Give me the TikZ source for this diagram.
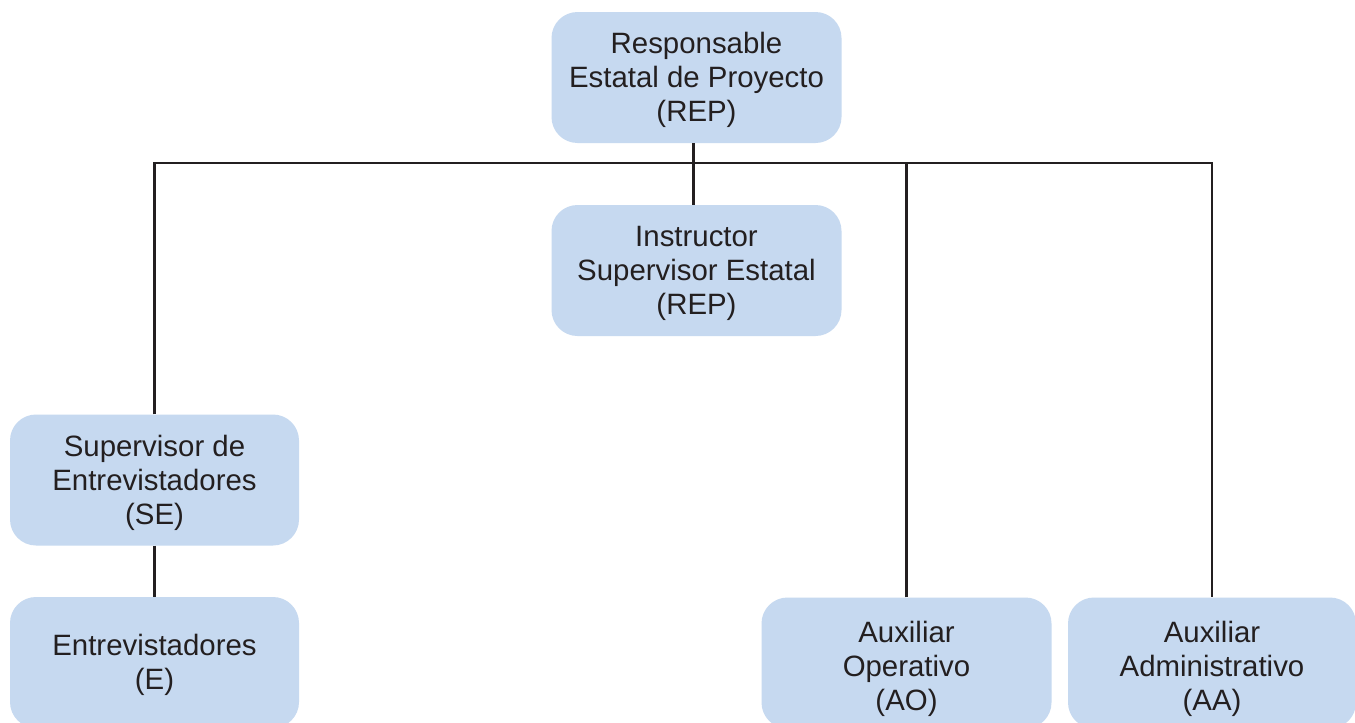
\documentclass[tikz,border=0pt]{standalone}
\usepackage{fontspec}
\setmainfont{Liberation Sans}
\definecolor{boxfill}{RGB}{198,217,240}
\definecolor{linecol}{RGB}{35,31,32}
\newcommand{\boxtext}[2][3.3pt]{\raisebox{-#1}[\height][\depth]{\begin{tabular}{@{}c@{}}#2\end{tabular}}}
\begin{document}
\begin{tikzpicture}[x=1pt,y=-1pt,
  orgbox/.style={fill=boxfill, draw=none, rounded corners=26pt, minimum width=290pt, minimum height=131pt,
    align=center, font=\fontsize{29.4}{34}\selectfont, text=linecol, inner sep=0pt},
  conn/.style={draw=linecol, line width=2.6pt}]
\useasboundingbox (0,0) rectangle (1355,723);
\clip (0,0) rectangle (1355,723);
\fill[white] (0,0) rectangle (1355,723);
\node[orgbox] (rep) at (696.5,77.5) {\boxtext{Responsable\\Estatal de Proyecto\\(REP)}};
\node[orgbox] (ise) at (696.5,270.5) {\boxtext{Instructor\\Supervisor Estatal\\(REP)}};
\node[orgbox, minimum width=289pt] (se) at (154.5,480) {\boxtext{Supervisor de\\Entrevistadores\\(SE)}};
\node[orgbox, minimum width=289pt] (e) at (154.5,662.5) {\boxtext{Entrevistadores\\(E)}};
\node[orgbox] (ao) at (906.5,663) {\boxtext[7pt]{Auxiliar\\Operativo\\(AO)}};
\node[orgbox, minimum width=288pt] (aa) at (1212,663) {\boxtext[7pt]{Auxiliar\\Administrativo\\(AA)}};
\coordinate (bus) at (0,163);
\draw[conn] (se.north) -- (se.north |- bus) -- (aa.north |- bus) -- (aa.north);
\draw[conn] (ao.north) -- (ao.north |- bus);
\draw[conn] ([xshift=-3pt]rep.south) -- ([xshift=-3pt]ise.north);
\draw[conn] (se.south) -- (e.north);
\end{tikzpicture}
\end{document}
